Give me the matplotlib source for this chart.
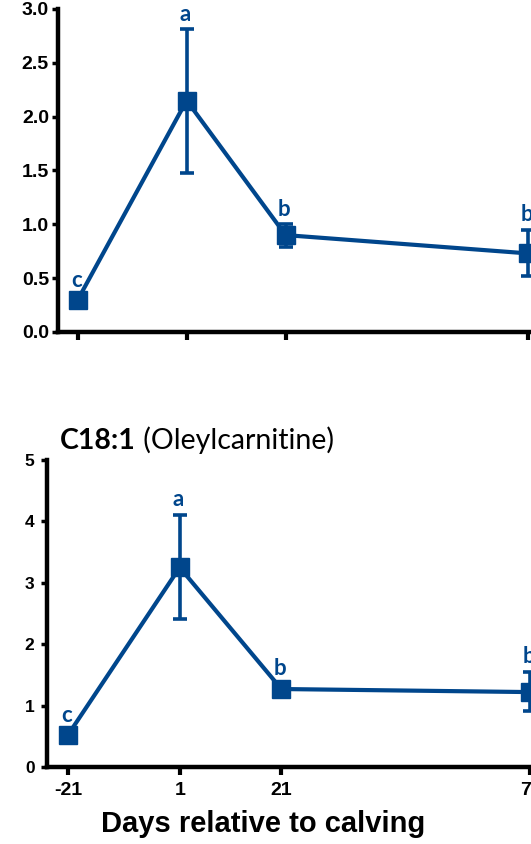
import matplotlib
matplotlib.use("Agg")
import matplotlib.pyplot as plt

days = [-21, 1, 21, 70]
day_labels = ["-21", "1", "21", "70"]

# Top panel (title cut off)
top_mean = [0.30, 2.15, 0.90, 0.73]
top_lo = [0.26, 1.48, 0.79, 0.52]
top_hi = [0.34, 2.81, 1.00, 0.95]
top_letters = ["c", "a", "b", "b"]

# Bottom panel: C18:1 (Oleylcarnitine)
bot_mean = [0.52, 3.25, 1.27, 1.22]
bot_lo = [0.45, 2.41, 1.18, 0.91]
bot_hi = [0.59, 4.10, 1.36, 1.55]
bot_letters = ["c", "a", "b", "b"]

BLUE = "#00468C"
W, H = 531, 844
fig = plt.figure(figsize=(W / 100, H / 100), dpi=100)

def panel(rect, xlim, ylim, yticks, ytlabels, ysize, ypad, mean, lo, hi, letters, show_x):
    ax = fig.add_axes(rect)
    err = [[m - l for m, l in zip(mean, lo)], [h - m for m, h in zip(mean, hi)]]
    ax.errorbar(days, mean, yerr=err, color=BLUE, lw=3, elinewidth=2.6,
                capsize=5, capthick=2.6, marker="s", ms=13, mfc=BLUE, mec=BLUE,
                clip_on=False, zorder=3)
    for x, h, t in zip(days, hi, letters):
        ax.annotate(t, (x, h), xytext=(-1, 11), textcoords="offset points",
                    ha="center", va="center", color=BLUE, fontsize=16,
                    fontweight="bold", family="Lato", annotation_clip=False)
    ax.set_xlim(*xlim)
    ax.set_ylim(*ylim)
    for s in ["top", "right"]:
        ax.spines[s].set_visible(False)
    for s in ["left", "bottom"]:
        ax.spines[s].set_linewidth(3.2)
        ax.spines[s].set_color("black")
    ax.set_yticks(yticks)
    ax.set_yticklabels(ytlabels, fontsize=ysize, fontweight="bold",
                       family="Liberation Sans")
    ax.set_xticks(days)
    if show_x:
        ax.set_xticklabels(day_labels, fontsize=14, fontweight="bold",
                           family="Liberation Sans")
    else:
        ax.set_xticklabels([])
    ax.tick_params(axis="y", length=4, width=2.5, pad=ypad)
    ax.tick_params(axis="x", length=6, width=3, pad=5)
    return ax

ax1 = panel([58 / W, 1 - 332 / H, 1 - 58 / W, (332 - 9) / H], (-25, 70.6), (0, 3.0),
            [0, 0.5, 1.0, 1.5, 2.0, 2.5, 3.0],
            ["0.0", "0.5", "1.0", "1.5", "2.0", "2.5", "3.0"], 14, 2.5,
            top_mean, top_lo, top_hi, top_letters, False)

ax2 = panel([47 / W, 1 - 767 / H, 1 - 47 / W, (767 - 460) / H], (-25.1, 70.1), (0, 5),
            [0, 1, 2, 3, 4, 5], ["0", "1", "2", "3", "4", "5"], 12.5, 5,
            bot_mean, bot_lo, bot_hi, bot_letters, True)

t = fig.text(60 / W, 1 - 441 / H, "C18:1", fontsize=20.5, fontweight="bold",
             family="Lato", ha="left", va="center")
ax2.annotate(" (Oleylcarnitine)", xy=(1, 0), xycoords=t, va="bottom", ha="left",
             fontsize=20.5, family="Lato")

fig.text(263 / W, 1 - 824 / H, "Days relative to calving", fontsize=21,
         fontweight="bold", family="Liberation Sans", ha="center", va="center")

fig.savefig("out.png", dpi=100)
